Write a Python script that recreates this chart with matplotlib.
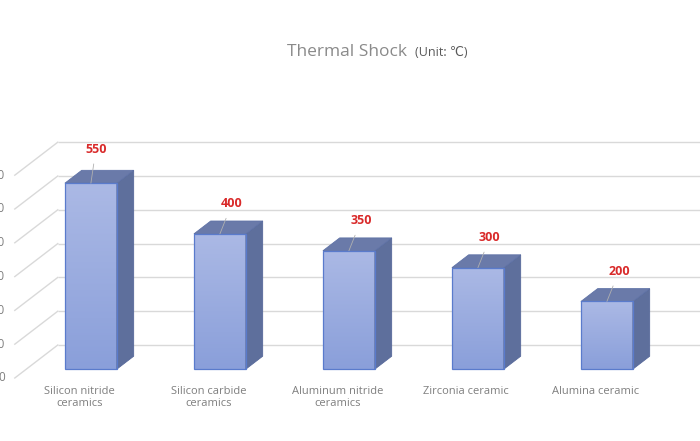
import numpy as np
import matplotlib
matplotlib.use('Agg')
import matplotlib.pyplot as plt
from matplotlib.patches import Polygon
from matplotlib.colors import to_rgb

# data
categories = ['Silicon nitride\nceramics', 'Silicon carbide\nceramics',
              'Aluminum nitride\nceramics', 'Zirconia ceramic', 'Alumina ceramic']
values = [550, 400, 350, 300, 200]
y_ticks = [0, 100, 200, 300, 400, 500, 600]

# fake 3d geometry (in data units): depth vector of the floor, bar depth range and width
DEPTH = np.array([0.3333, 97.6])
T0, T1 = 0.27, 0.66
BAR_W = 0.403

GRID = '#d9d9d9'
TEXT = '#7f7f7f'
EDGE = '#5a7bcc'

fig = plt.figure(figsize=(7, 4.41), dpi=100)
ax = fig.add_axes([0, 0, 1, 1])
ax.axis('off')


def shift(x, y, t):
    return x + DEPTH[0] * t, y + DEPTH[1] * t


# walls: back wall gridlines and left wall diagonals
n = len(categories)
for v in y_ticks:
    bx0, by = shift(-0.5, v, 1)
    bx1, _ = shift(n - 0.5, v, 1)
    ax.plot([bx0, bx1], [by, by], color=GRID, lw=1, zorder=1, solid_capstyle='butt')
    ax.plot([-0.5, bx0], [v, by], color=GRID, lw=1, zorder=1)
    # the reference is cropped on the left, so these labels only show their last digit
    ax.annotate(str(v), xy=(-0.5, v), xytext=(-7.2, 0), textcoords='offset points',
                ha='right', va='center', fontsize=8.5, color=TEXT, family='Open Sans')

top_c = np.array(to_rgb('#abb9e5'))
bot_c = np.array(to_rgb('#8a9fda'))
grad = np.linspace(top_c, bot_c, 100).reshape(100, 1, 3)

for i, (cat, v) in enumerate(zip(categories, values)):
    fx0, fy0 = shift(i - BAR_W / 2, 0, T0)
    fx1, fy1 = shift(i + BAR_W / 2, v, T0)
    # front face with gradient
    ax.imshow(grad, extent=(fx0, fx1, fy0, fy1), aspect='auto', zorder=3, interpolation='bilinear')
    ax.add_patch(Polygon([(fx0, fy0), (fx1, fy0), (fx1, fy1), (fx0, fy1)], closed=True,
                         facecolor='none', edgecolor=EDGE, lw=0.9, zorder=4))
    # side face
    sx, sy = shift(fx1, 0, T1 - T0)
    sx_top, sy_top = shift(fx1, v, T1 - T0)
    ax.add_patch(Polygon([(fx1, fy0), (sx, sy + fy0), (sx_top, sy_top + fy0), (fx1, fy1)],
                         closed=True, facecolor='#5e6f9c', edgecolor='#56689a', lw=0.6, zorder=3))
    # top face
    bx0, by0 = shift(fx0, fy1, T1 - T0)
    ax.add_patch(Polygon([(fx0, fy1), (fx1, fy1), (sx_top, sy_top + fy0), (bx0, by0)],
                         closed=True, facecolor='#6a7aa9', edgecolor='#5f72a6', lw=0.6, zorder=3))
    # value label with leader line (the first one sits a bit higher and closer in the reference)
    off = (3.6, 24.5) if i == 0 else (8.6, 21.6)
    cx = (fx0 + fx1) / 2
    ax.annotate(str(v), xy=(cx, fy1), xytext=off, textcoords='offset points',
                ha='center', va='center', fontsize=9, fontweight='bold', color='#d92a2a',
                family='Open Sans',
                arrowprops=dict(arrowstyle='-', color='#b0b0b0', lw=0.6, shrinkA=4, shrinkB=0),
                zorder=6)
    # category label on the front plane
    ax.annotate(cat, xy=(i, 0), xytext=(0, -5.5), textcoords='offset points',
                ha='center', va='top', fontsize=8, color=TEXT, family='Open Sans',
                linespacing=1.15)

ax.set_xlim(-0.6147, 4.8116)
ax.set_ylim(-186.4, 1118.3)

fig.text(0.581, 0.882, 'Thermal Shock', ha='right', va='center', fontsize=12.5,
         color='#8a8a8a', family='Open Sans')
fig.text(0.593, 0.882, '(Unit: ℃)', ha='left', va='center', fontsize=9,
         color='#595959', family=['Open Sans', 'DejaVu Sans'])

fig.savefig('out.png', dpi=100)
